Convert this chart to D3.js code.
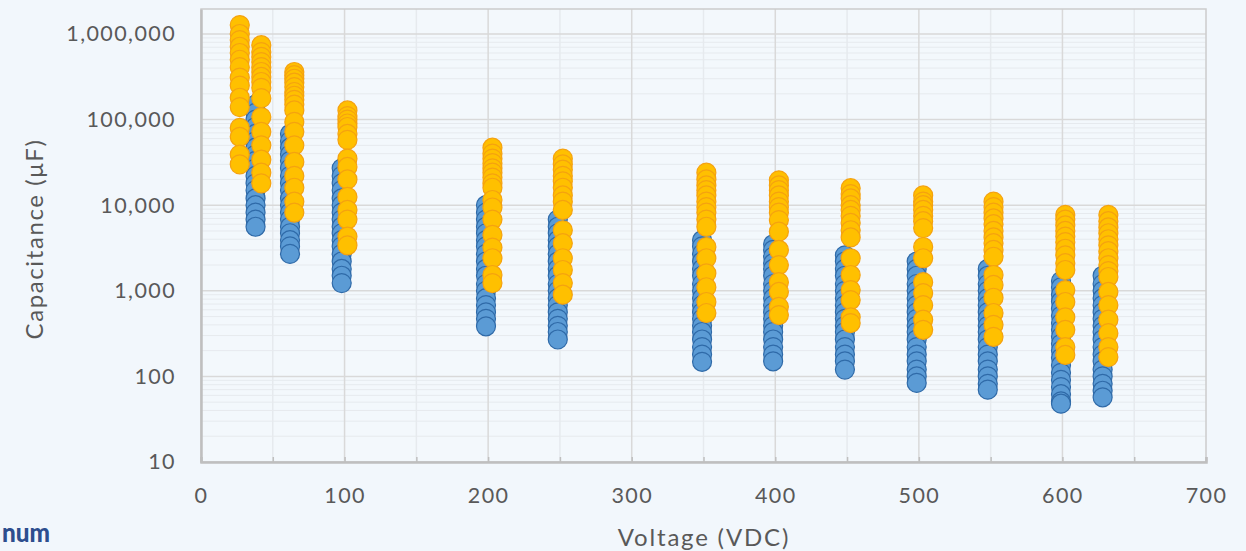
<!DOCTYPE html>
<html>
<head>
<meta charset="utf-8">
<script src="https://cdn.jsdelivr.net/npm/d3@7"></script>
<style>
  html, body { margin: 0; padding: 0; background: #f2f7fc; }
  svg { display: block; }
  text { font-family: Lato, "Open Sans", sans-serif; fill: #595959; }
</style>
</head>
<body>
<svg id="chart" width="1246" height="551"></svg>
<script>
// ---- data ----
const blueVoltages = [38, 62, 98, 198.5, 248.5, 349, 398.5, 448.5, 498.5, 548, 599, 628];
const blueValues = [
  [150000,120000,100000,82000,68000,56000,47000,39000,33000,27000,22000,18000,15000,12000,10000,8200,6800,5600],
  [68000,56000,47000,39000,33000,27000,22000,18000,15000,12000,10000,8200,6800,5600,4700,3900,3300,2700],
  [27000,22000,18000,15000,12000,10000,8200,6800,5600,4700,3900,3300,2700,2200,1800,1500,1230],
  [10000,8200,6800,5600,4700,3900,3300,2700,2200,1800,1500,1200,1000,820,680,560,470,385],
  [6800,5600,4700,3900,3300,2700,2200,1800,1500,1200,1000,820,680,560,470,390,330,270],
  [3900,3300,2700,2200,1800,1500,1200,1000,820,680,560,470,390,330,270,220,180,148],
  [3500,3000,2500,2100,1800,1500,1200,1000,820,680,560,470,390,330,270,220,180,150],
  [2600,2200,1800,1500,1200,1000,820,680,560,470,390,330,270,220,180,150,120],
  [2200,1800,1500,1200,1000,820,680,560,470,390,330,270,220,180,150,120,100,84],
  [1800,1500,1200,1000,820,680,560,470,390,330,270,220,180,150,120,100,82,70],
  [1300,1100,900,750,620,510,420,350,290,240,200,165,135,110,91,75,62,51,48],
  [1500,1200,1000,820,680,560,470,390,330,270,220,180,150,120,100,82,68,57]
];
const orangeVoltages = [27, 42, 65, 102, 203, 252, 352, 402.5, 452.5, 503, 552, 602, 632];
const orangeValues = [
  [1270000,1000000,850000,710000,600000,500000,410000,310000,250000,180000,140000,80000,63000,39000,30000],
  [740000,615000,540000,470000,410000,360000,315000,275000,235000,178000,107000,72000,50000,34000,24000,18000],
  [360000,330000,300000,270000,240000,210000,190000,170000,150000,128000,94000,72000,50000,32000,22000,16000,11000,8200],
  [128000,110000,100000,90000,82000,68000,58000,35000,28000,20000,12500,8800,6800,4300,3400],
  [47000,40000,35000,31000,27000,24000,21000,18000,16000,11500,9400,6800,4500,3200,2400,1530,1230],
  [35000,30000,26000,22000,19000,16000,13000,11000,8800,5100,3600,2400,1750,1230,900],
  [24000,20000,17000,15000,13000,11000,9500,8200,6800,5600,3250,2400,1600,1100,740,550],
  [19500,17000,15000,13000,11000,9500,8200,6700,4900,3000,2000,1260,970,650,520],
  [15800,13500,12000,10000,8800,7500,6200,5100,4200,2400,1530,1020,780,490,420],
  [13000,11000,10000,8800,7500,6500,5400,3250,2400,1260,940,680,460,350],
  [11000,9500,8200,7000,6000,5000,4200,3600,3000,2500,1530,1170,830,550,400,290],
  [7700,6800,5800,5000,4300,3700,3100,2600,2100,1750,1020,740,490,350,220,178],
  [7700,6500,5500,4700,4000,3400,2900,2400,2000,1700,1450,970,680,460,320,220,168]
];
const xTicks = [0, 100, 200, 300, 400, 500, 600, 700];
const yTicks = [10, 100, 1000, 10000, 100000, 1000000];
const xTitle = "Voltage (VDC)";
const yTitle = "Capacitance (\u03bcF)";

// ---- layout ----
const svg = d3.select("#chart");
const pLeft = 201, pRight = 1206, pTop = 9, pBottom = 462;

const x = d3.scaleLinear().domain([0, 700]).range([pLeft, pRight]);
const y = d3.scaleLog().domain([10, Math.pow(10, 6 + (34 - 9) / 85.6)]).range([pBottom, pTop]);

// plot background
svg.append("rect").attr("x", pLeft).attr("y", pTop).attr("width", pRight - pLeft).attr("height", pBottom - pTop)
  .attr("fill", "#f3f8fc");

// minor y gridlines
const minorY = [];
for (let d = 10; d <= 1e6; d *= 10) for (let m = 2; m <= 9; m++) { const v = d * m; if (y(v) > pTop) minorY.push(v); }
svg.append("g").selectAll("line").data(minorY).join("line")
  .attr("x1", pLeft).attr("x2", pRight).attr("y1", d => y(d)).attr("y2", d => y(d))
  .attr("stroke", "#e6eaee").attr("stroke-width", 1);
// minor x gridlines
const minorX = d3.range(50, 700, 100);
svg.append("g").selectAll("line").data(minorX).join("line")
  .attr("x1", d => x(d)).attr("x2", d => x(d)).attr("y1", pTop).attr("y2", pBottom)
  .attr("stroke", "#e6eaee").attr("stroke-width", 1.5);
// major gridlines
svg.append("g").selectAll("line").data(yTicks.slice(1)).join("line")
  .attr("x1", pLeft).attr("x2", pRight).attr("y1", d => y(d)).attr("y2", d => y(d))
  .attr("stroke", "#d9d9d9").attr("stroke-width", 1.5);
svg.append("g").selectAll("line").data(xTicks.slice(1, -1)).join("line")
  .attr("x1", d => x(d)).attr("x2", d => x(d)).attr("y1", pTop).attr("y2", pBottom)
  .attr("stroke", "#d9d9d9").attr("stroke-width", 1.5);

// plot border
svg.append("rect").attr("x", pLeft).attr("y", pTop).attr("width", pRight - pLeft).attr("height", pBottom - pTop)
  .attr("fill", "none").attr("stroke", "#cccccc").attr("stroke-width", 1.5);

// axes
const fmt = d3.format(",");
const xAxis = d3.axisBottom(x).tickValues(d3.range(0, 701, 50)).tickSize(-5).tickPadding(26)
  .tickFormat(d => d % 100 === 0 ? d : "");
const gx = svg.append("g").attr("transform", `translate(0,${pBottom})`).call(xAxis);
gx.select(".domain").attr("stroke", "#bfbfbf").attr("stroke-width", 2.5);
gx.selectAll(".tick line").attr("stroke", "#bfbfbf").attr("stroke-width", 1.5);
gx.selectAll(".tick text").attr("font-size", 21.5).attr("fill", "#595959").attr("dy", "0.71em");

const yAxis = d3.axisLeft(y).tickValues(yTicks).tickSize(0).tickPadding(25).tickFormat(fmt);
const gy = svg.append("g").attr("transform", `translate(${pLeft},0)`).call(yAxis);
gy.select(".domain").attr("stroke", "#bfbfbf").attr("stroke-width", 2.5);
gy.selectAll(".tick text").attr("font-size", 21.5).attr("fill", "#595959");
svg.selectAll(".tick text").style("font-family", "Lato, 'Open Sans', sans-serif").style("letter-spacing", "1.4px");

// points
const r = 9.5;
const bluePts = blueVoltages.flatMap((v, i) => blueValues[i].map(c => ({ v, c })));
const orangePts = orangeVoltages.flatMap((v, i) => orangeValues[i].map(c => ({ v, c })));
svg.append("g").selectAll("circle").data(bluePts).join("circle")
  .attr("cx", d => x(d.v)).attr("cy", d => y(d.c)).attr("r", r)
  .attr("fill", "#5b9bd5").attr("stroke", "#2f6aa8").attr("stroke-width", 1.2);
svg.append("g").selectAll("circle").data(orangePts).join("circle")
  .attr("cx", d => x(d.v)).attr("cy", d => y(d.c)).attr("r", r)
  .attr("fill", "#ffc000").attr("stroke", "#f5a20f").attr("stroke-width", 1.2);

// titles
svg.append("text").attr("x", 704).attr("y", 546).attr("text-anchor", "middle")
  .attr("font-size", 24).style("letter-spacing", "1.8px").text(xTitle);
svg.append("text").attr("transform", `translate(43,239) rotate(-90)`).attr("text-anchor", "middle")
  .attr("font-size", 24).style("letter-spacing", "1.6px").text(yTitle);

// logo fragment (kept fully inside the frame)
svg.append("text").attr("x", 2).attr("y", 542)
  .attr("font-size", 26).attr("font-weight", 900).attr("textLength", 48).attr("lengthAdjust", "spacingAndGlyphs")
  .style("fill", "#2d4e8e").text("num");
</script>
</body>
</html>
